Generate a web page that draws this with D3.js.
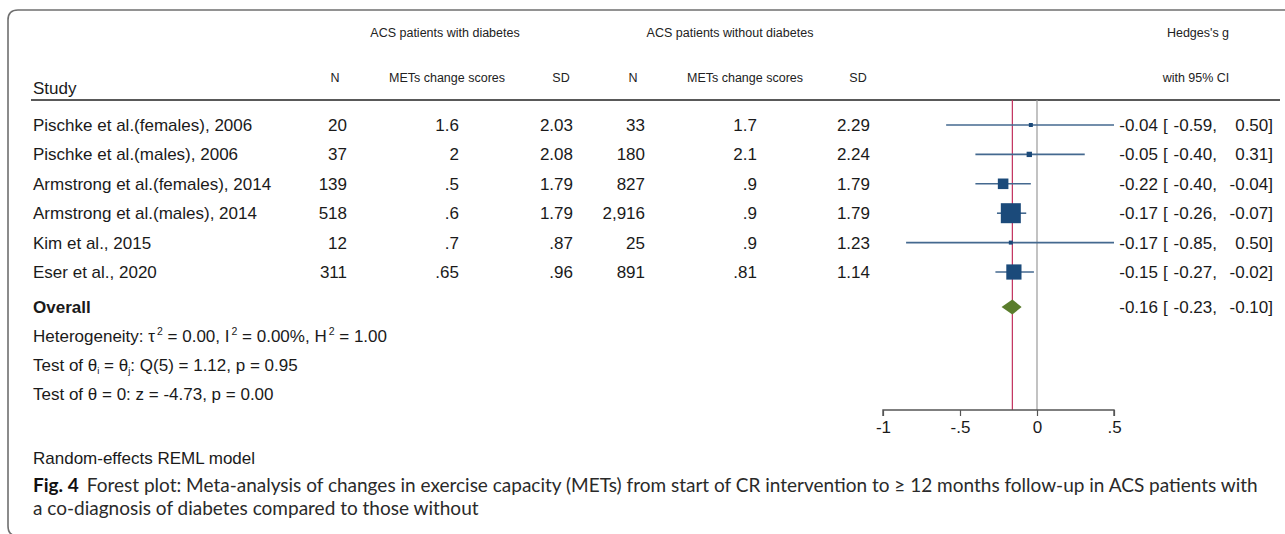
<!DOCTYPE html>
<html>
<head>
<meta charset="utf-8">
<script src="https://cdn.jsdelivr.net/npm/d3@7"></script>
<style>
  html, body { margin: 0; padding: 0; background: #fff; }
  svg { display: block; }
  text { font-family: "Liberation Sans", Arial, sans-serif; fill: #1a1a1a; }
  .small { font-size: 12.5px; fill: #222; }
  .row { font-size: 17px; }
  .caption { font-family: Lato, "Noto Sans", sans-serif; fill: #2a2a2a; }
</style>
</head>
<body>
<svg id="chart"></svg>
<script>
const W = 1285
const H = 534

// Study rows
const studies = [
  "Pischke et al.(females), 2006",
  "Pischke et al.(males), 2006",
  "Armstrong et al.(females), 2014",
  "Armstrong et al.(males), 2014",
  "Kim et al., 2015",
  "Eser et al., 2020",
]
// ACS patients with diabetes
const nDiab = [20, 37, 139, 518, 12, 311]
const metsDiab = [1.6, 2, 0.5, 0.6, 0.7, 0.65]
const sdDiab = [2.03, 2.08, 1.79, 1.79, 0.87, 0.96]
// ACS patients without diabetes
const nNoDiab = [33, 180, 827, 2916, 25, 891]
const metsNoDiab = [1.7, 2.1, 0.9, 0.9, 0.9, 0.81]
const sdNoDiab = [2.29, 2.24, 1.79, 1.79, 1.23, 1.14]
// Hedges's g with 95% CI, and study weights (%)
const effect = [-0.04, -0.05, -0.22, -0.17, -0.17, -0.15]
const ciLow = [-0.59, -0.40, -0.40, -0.26, -0.85, -0.27]
const ciHigh = [0.50, 0.31, -0.04, -0.07, 0.50, -0.02]
const weight = [1.5, 3.6, 14.1, 50.5, 1.0, 29.2]
const overall = [-0.16, -0.23, -0.10] // estimate, low, high
const axisTicks = [-1, -0.5, 0, 0.5]

// Stata-like number formats (".65", "2,916", plain hyphen minus)
const locale = d3.formatLocale({ decimal: ".", thousands: ",", grouping: [3], currency: ["", ""], minus: "-" })
const stata = (v) => String(v).replace(/^(-?)0\./, "$1.")
const fmtN = locale.format(",")
const fmt2 = locale.format(".2f")

const svg = d3.select("#chart").attr("width", W).attr("height", H)

// frame, rounded top-left corner, open to the right and bottom
svg.append("path")
  .attr("d", `M${W + 2},10 H18 Q8,10 8,20 V526 Q8,536 18,536`)
  .attr("fill", "none")
  .attr("stroke", "#6f6f6f")
  .attr("stroke-width", 1.6)

const y = d3.scalePoint().domain(d3.range(studies.length)).range([125, 272])
const x = d3.scaleLinear().domain([-1, 0.5]).range([883, 1114])
const yOverall = 307
const yAxis = 410

// column right edges, headers sit 12px left of them
const cols = [
  { right: 347, head: "N", vals: nDiab, f: fmtN },
  { right: 459, head: "METs change scores", vals: metsDiab, f: stata },
  { right: 573, head: "SD", vals: sdDiab, f: stata },
  { right: 645, head: "N", vals: nNoDiab, f: fmtN },
  { right: 757, head: "METs change scores", vals: metsNoDiab, f: stata },
  { right: 870, head: "SD", vals: sdNoDiab, f: stata },
]

// header
svg.append("text").attr("class", "small").attr("x", 445).attr("y", 37)
  .attr("text-anchor", "middle").text("ACS patients with diabetes")
svg.append("text").attr("class", "small").attr("x", 730).attr("y", 37)
  .attr("text-anchor", "middle").text("ACS patients without diabetes")
svg.append("text").attr("class", "small").attr("x", 1198).attr("y", 37)
  .attr("text-anchor", "middle").text("Hedges's g")
svg.append("text").attr("class", "small").attr("x", 1196).attr("y", 82)
  .attr("text-anchor", "middle").text("with 95% CI")
svg.append("text").attr("class", "row").attr("x", 33).attr("y", 94).text("Study")
cols.forEach((c) => {
  svg.append("text").attr("class", "small").attr("x", c.right - 12).attr("y", 82)
    .attr("text-anchor", "middle").text(c.head)
})
svg.append("line")
  .attr("x1", 31).attr("x2", 1280).attr("y1", 100).attr("y2", 100)
  .attr("stroke", "#222").attr("stroke-width", 1.6)

// table body
const rows = svg.append("g").attr("class", "row")
studies.forEach((s, i) => {
  const ty = y(i) + 6
  rows.append("text").attr("x", 33).attr("y", ty).text(s)
  cols.forEach((c) => {
    rows.append("text").attr("x", c.right).attr("y", ty)
      .attr("text-anchor", "end").text(c.f(c.vals[i]))
  })
})

// reference lines
svg.append("line")
  .attr("x1", x(0)).attr("x2", x(0)).attr("y1", 100).attr("y2", yAxis)
  .attr("stroke", "#9a9a9a").attr("stroke-width", 1.2)
svg.append("line")
  .attr("x1", x(overall[0])).attr("x2", x(overall[0])).attr("y1", 100).attr("y2", yAxis)
  .attr("stroke", "#c2305c").attr("stroke-width", 1.2)

// CIs and weighted squares
const size = d3.scaleSqrt().domain([0, d3.max(weight)]).range([0, 20])
const marks = svg.append("g")
studies.forEach((s, i) => {
  marks.append("line")
    .attr("x1", x(ciLow[i])).attr("x2", x(ciHigh[i]))
    .attr("y1", y(i)).attr("y2", y(i))
    .attr("stroke", "#44698f").attr("stroke-width", 1.6)
  const sz = Math.max(size(weight[i]), 4)
  marks.append("rect")
    .attr("x", x(effect[i]) - sz / 2).attr("y", y(i) - sz / 2)
    .attr("width", sz).attr("height", sz)
    .attr("fill", "#1b4a7a")
})

// overall diamond
const dh = 7.5
svg.append("path")
  .attr("d", `M${x(overall[1])},${yOverall} L${x(overall[0])},${yOverall - dh} L${x(overall[2])},${yOverall} L${x(overall[0])},${yOverall + dh} Z`)
  .attr("fill", "#5a7d2c")

// estimate labels: "-0.04 [ -0.59,  0.50]"
const labRows = effect.map((e, i) => ({ e, lo: ciLow[i], hi: ciHigh[i], y: y(i) }))
labRows.push({ e: overall[0], lo: overall[1], hi: overall[2], y: yOverall })
const labs = svg.append("g").attr("class", "row").attr("font-size", 16.5)
labRows.forEach((d) => {
  const ty = d.y + 6
  labs.append("text").attr("x", 1158).attr("y", ty).attr("text-anchor", "end").text(fmt2(d.e))
  labs.append("text").attr("x", 1163).attr("y", ty).text("[")
  labs.append("text").attr("x", 1217).attr("y", ty).attr("text-anchor", "end").text(fmt2(d.lo) + ",")
  labs.append("text").attr("x", 1273).attr("y", ty).attr("text-anchor", "end").text(fmt2(d.hi) + "]")
})

// x axis, ticks pointing down
const axis = svg.append("g")
  .attr("transform", `translate(0,${yAxis})`)
  .call(d3.axisBottom(x).tickValues(axisTicks).tickSize(6).tickPadding(5).tickFormat(stata))
axis.select(".domain").attr("stroke", "#555").attr("stroke-width", 1.4)
  .attr("d", `M${x(-1)},6V0H${x(0.5)}V6`)
axis.selectAll(".tick line").attr("stroke", "#555").attr("stroke-width", 1.2)
axis.selectAll(".tick text").attr("font-size", 17).attr("fill", "#1a1a1a")
  .attr("font-family", "'Liberation Sans', Arial, sans-serif")

// overall + heterogeneity block
const stats = svg.append("g").attr("class", "row")
stats.append("text").attr("x", 33).attr("y", yOverall + 6)
  .attr("font-weight", "bold").text("Overall")

const het = stats.append("text").attr("x", 33).attr("y", 342)
const sup = (t, s, rest) => {
  t.append("tspan").text(s)
  t.append("tspan").attr("dy", -7).attr("dx", 2).attr("font-size", 10.5).text("2")
  t.append("tspan").attr("dy", 7).text(rest)
}
het.append("tspan").text("Heterogeneity: ")
sup(het, "τ", " = 0.00, ")
sup(het, "I", " = 0.00%, ")
sup(het, "H", " = 1.00")

const t1 = stats.append("text").attr("x", 33).attr("y", 371)
t1.append("tspan").text("Test of θ")
t1.append("tspan").attr("dy", 3).attr("font-size", 9.5).text("i")
t1.append("tspan").attr("dy", -3).text(" = θ")
t1.append("tspan").attr("dy", 3).attr("font-size", 9.5).text("j")
t1.append("tspan").attr("dy", -3).text(": Q(5) = 1.12, p = 0.95")

stats.append("text").attr("x", 33).attr("y", 400)
  .text("Test of θ = 0: z = -4.73, p = 0.00")

svg.append("text").attr("x", 33).attr("y", 464).attr("font-size", 17)
  .text("Random-effects REML model")

// figure caption
const cap1 = svg.append("text").attr("class", "caption").attr("x", 33).attr("y", 492)
  .attr("font-size", 19)
cap1.append("tspan").attr("font-weight", "bold").attr("fill", "#111").text("Fig. 4")
cap1.append("tspan").attr("dx", 8)
  .text("Forest plot: Meta-analysis of changes in exercise capacity (METs) from start of CR intervention to \u2265 12 months follow-up in ACS patients with")
svg.append("text").attr("class", "caption").attr("x", 33).attr("y", 515)
  .attr("font-size", 19)
  .text("a co-diagnosis of diabetes compared to those without")
</script>
</body>
</html>
